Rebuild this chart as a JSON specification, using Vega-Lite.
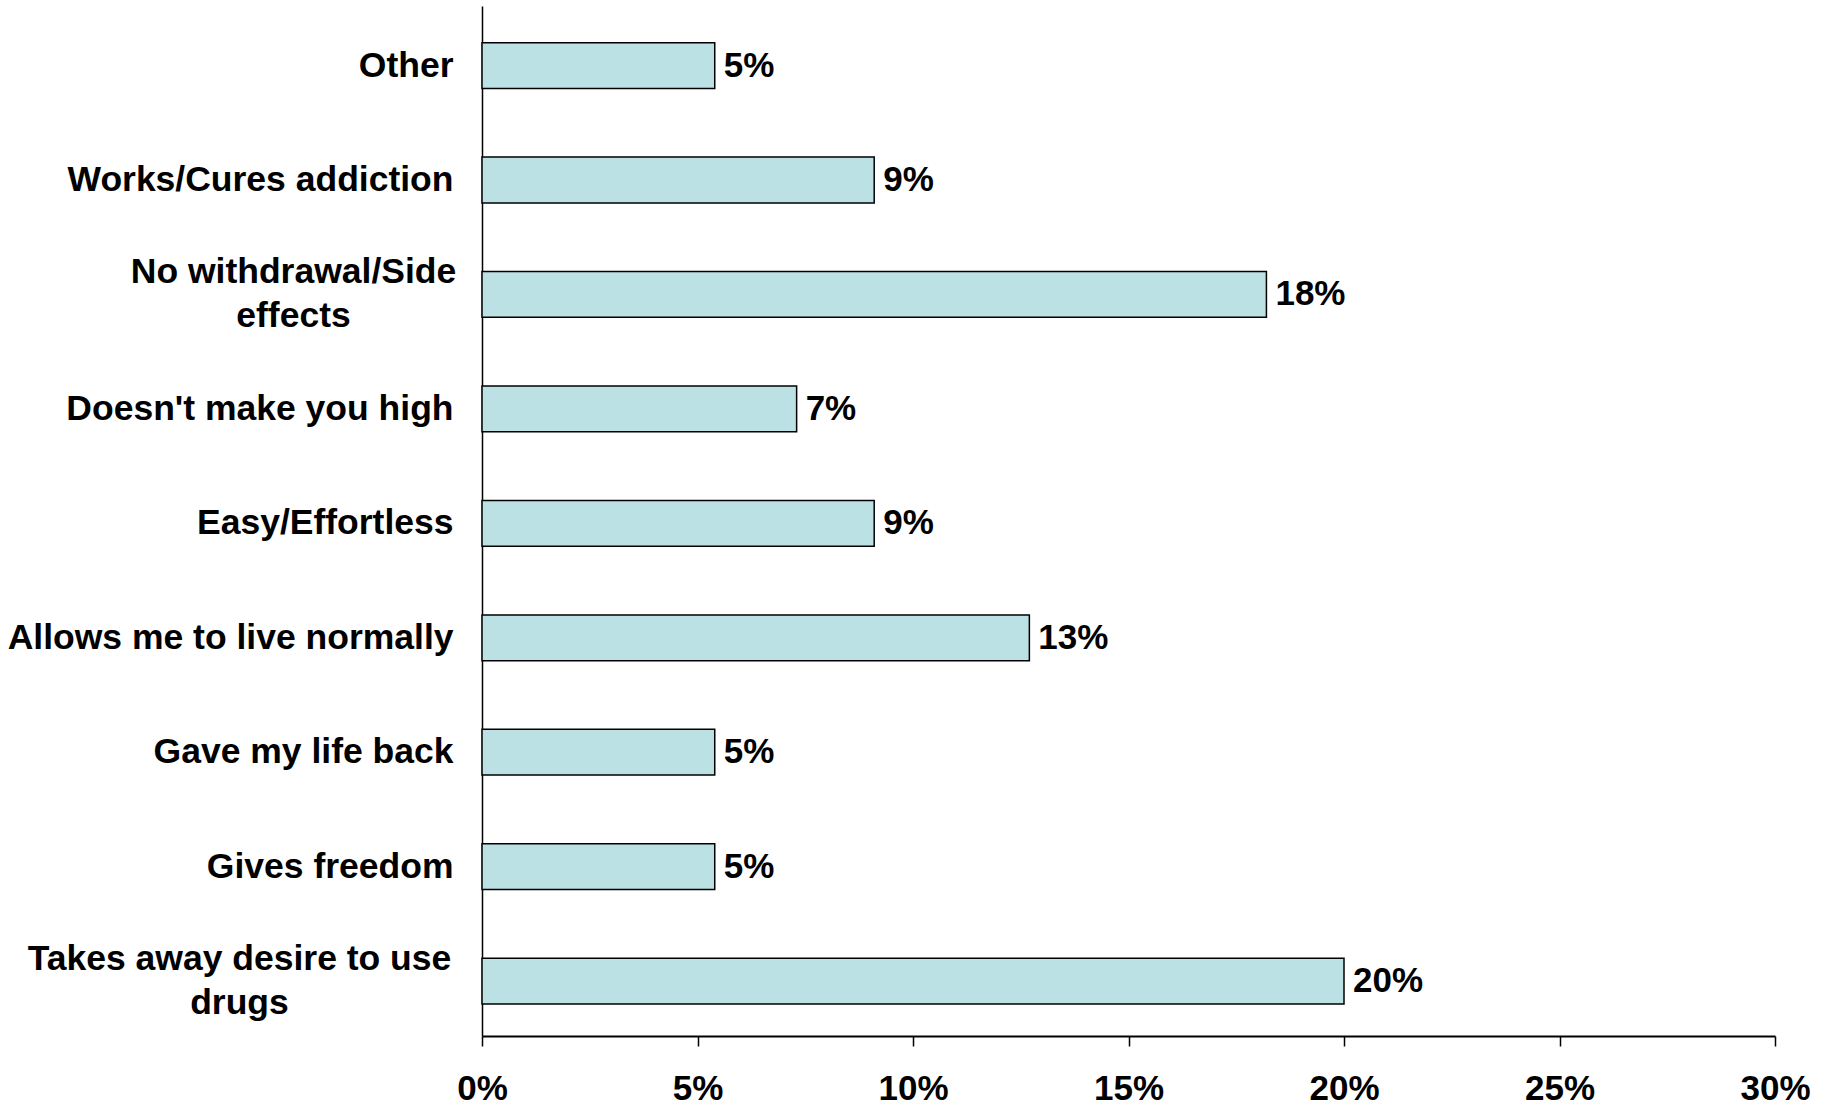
{
  "$schema": "https://vega.github.io/schema/vega-lite/v6.json",
  "width": 1293,
  "height": 1030,
  "autosize": "none",
  "padding": {"left": 482, "top": 6, "right": 60, "bottom": 69},
  "background": "white",
  "config": {"view": {"stroke": null}, "font": "Liberation Sans"},
  "data": {
    "values": [
      {"reason": "Other", "pct": 5.4, "label": "5%"},
      {"reason": "Works/Cures addiction", "pct": 9.1, "label": "9%"},
      {"reason": "No withdrawal/Side|effects", "pct": 18.2, "label": "18%"},
      {"reason": "Doesn't make you high", "pct": 7.3, "label": "7%"},
      {"reason": "Easy/Effortless", "pct": 9.1, "label": "9%"},
      {"reason": "Allows me to live normally", "pct": 12.7, "label": "13%"},
      {"reason": "Gave my life back", "pct": 5.4, "label": "5%"},
      {"reason": "Gives freedom", "pct": 5.4, "label": "5%"},
      {"reason": "Takes away desire to use|drugs", "pct": 20.0, "label": "20%"}
    ]
  },
  "encoding": {
    "y": {
      "field": "reason",
      "type": "nominal",
      "sort": null,
      "scale": {"paddingInner": 0.6, "paddingOuter": 0.3, "align": 0.534},
      "axis": {
        "title": null,
        "ticks": false,
        "tickSize": 0,
        "domainColor": "#000000",
        "domainWidth": 1.5,
        "labelFont": "Liberation Sans",
        "labelFontSize": 35.5,
        "labelFontWeight": "bold",
        "labelColor": "#000000",
        "labelLimit": 0,
        "labelLineHeight": 44,
        "labelExpr": "split(datum.value, '|')",
        "labelAlign": {"condition": {"test": "indexof(datum.value, '|') >= 0", "value": "center"}, "value": "right"},
        "labelOffset": {"condition": {"test": "indexof(datum.value, '|') >= 0", "value": -22}, "value": 0},
        "labelPadding": {
          "condition": [
            {"test": "datum.value === 'No withdrawal/Side|effects'", "value": 189},
            {"test": "datum.value === 'Takes away desire to use|drugs'", "value": 243}
          ],
          "value": 29
        }
      }
    },
    "x": {
      "field": "pct",
      "type": "quantitative",
      "scale": {"domain": [0, 30], "nice": false},
      "axis": {
        "title": null,
        "values": [0, 5, 10, 15, 20, 25, 30],
        "labelExpr": "datum.value + '%'",
        "grid": false,
        "domainColor": "#000000",
        "domainWidth": 2,
        "tickColor": "#000000",
        "tickWidth": 1.5,
        "tickSize": 10,
        "labelFlush": false,
        "labelPadding": 25,
        "labelFont": "Liberation Sans",
        "labelFontSize": 35,
        "labelFontWeight": "bold",
        "labelColor": "#000000"
      }
    }
  },
  "layer": [
    {"mark": {"type": "bar", "fill": "#BCE1E4", "stroke": "#000000", "strokeWidth": 1.5}},
    {
      "mark": {"type": "text", "align": "left", "baseline": "middle", "dx": 9, "fontSize": 35, "fontWeight": "bold", "font": "Liberation Sans", "color": "#000000"},
      "encoding": {"text": {"field": "label"}}
    }
  ]
}
